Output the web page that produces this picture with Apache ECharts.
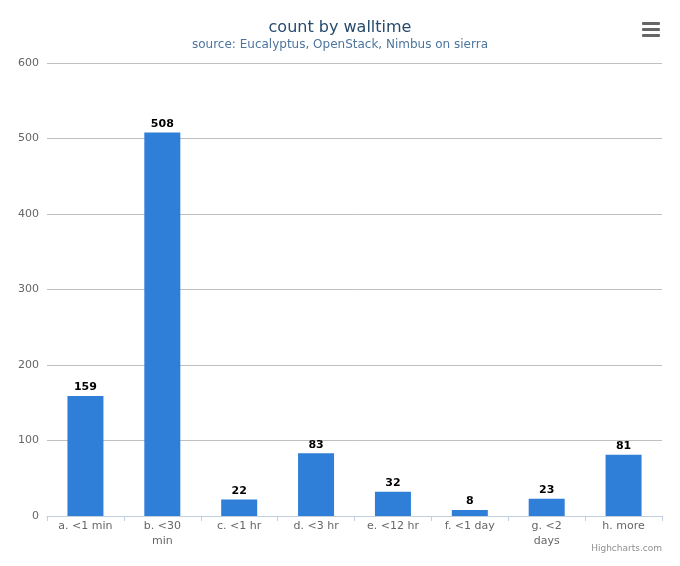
<!DOCTYPE html>
<html>
<head>
<meta charset="utf-8">
<script src="https://cdn.jsdelivr.net/npm/echarts@6/dist/echarts.min.js"></script>
<style>
html,body{margin:0;padding:0;background:#fff;}
#chart{width:680px;height:566px;}
</style>
</head>
<body>
<div id="chart"></div>
<script>
var categories = ['a. <1 min', 'b. <30 min', 'c. <1 hr', 'd. <3 hr', 'e. <12 hr', 'f. <1 day', 'g. <2 days', 'h. more'];
var counts = [159, 508, 22, 83, 32, 8, 23, 81];
var yTicks = [0, 100, 200, 300, 400, 500, 600];

var chart = echarts.init(document.getElementById('chart'), null, {renderer: 'canvas'});
var font = 'DejaVu Sans, Verdana, sans-serif';
chart.setOption({
  animation: false,
  backgroundColor: '#ffffff',
  title: {
    text: 'count by walltime',
    subtext: 'source: Eucalyptus, OpenStack, Nimbus on sierra',
    left: 'center',
    top: 14,
    itemGap: 1,
    textStyle: {fontFamily: font, fontSize: 16, fontWeight: 'normal', color: '#274b6d', lineHeight: 18},
    subtextStyle: {fontFamily: font, fontSize: 12, color: '#4d759e', lineHeight: 14}
  },
  grid: {left: 47, right: 18, top: 63, bottom: 50, containLabel: false},
  xAxis: {
    type: 'category',
    data: categories,
    axisLine: {lineStyle: {color: '#C0D0E0', width: 1}},
    axisTick: {show: true, length: 5, lineStyle: {color: '#C0D0E0'}},
    axisLabel: {
      fontFamily: font, fontSize: 11, color: '#666666', margin: 3, lineHeight: 15, interval: 0,
      formatter: function (v) {
        if (v.length > 9) { var i = v.lastIndexOf(' '); return v.slice(0, i) + '\n' + v.slice(i + 1); }
        return v;
      }
    }
  },
  yAxis: {
    type: 'value',
    min: yTicks[0],
    max: yTicks[yTicks.length - 1],
    interval: yTicks[1] - yTicks[0],
    axisLine: {show: false},
    axisTick: {show: false},
    axisLabel: {fontFamily: font, fontSize: 11, color: '#666666', margin: 8},
    splitLine: {lineStyle: {color: '#C0C0C0', width: 1}}
  },
  series: [{
    type: 'bar',
    data: counts,
    barWidth: 36,
    itemStyle: {color: '#2f7ed8'},
    label: {
      show: true,
      position: 'top',
      distance: 3,
      fontFamily: font,
      fontSize: 11,
      fontWeight: 'bold',
      color: '#000000'
    }
  }],
  graphic: [
    {type: 'rect', shape: {x: 642, y: 22, width: 18, height: 3, r: 1}, style: {fill: '#666666'}},
    {type: 'rect', shape: {x: 642, y: 28, width: 18, height: 3, r: 1}, style: {fill: '#666666'}},
    {type: 'rect', shape: {x: 642, y: 34, width: 18, height: 3, r: 1}, style: {fill: '#666666'}},
    {type: 'text', right: 18, top: 544, style: {text: 'Highcharts.com', fontFamily: font, fontSize: 9, fill: '#909090'}}
  ]
});
</script>
</body>
</html>
